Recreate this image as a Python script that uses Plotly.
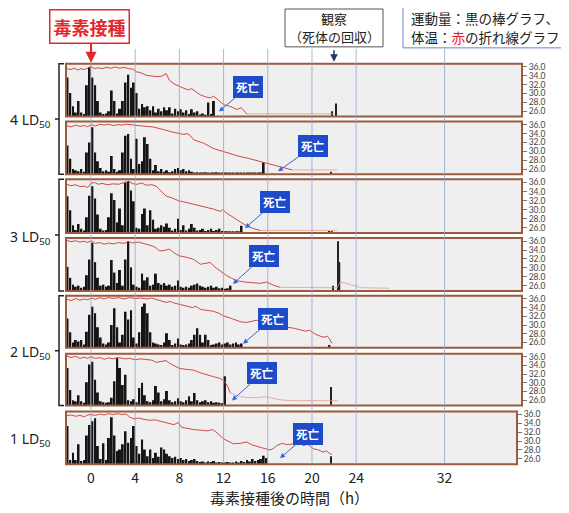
import plotly.graph_objects as go

# The page has an 8 px body margin, so the figure is drawn 8 px in and sized to fill the rest.
OFF = 8
W, H = 569 - OFF, 513 - OFF
def px(x): return (x - OFF) / W
def py(y): return 1 - (y - OFF) / H

# ---------------- data ----------------
T0 = -2.25      # start of activity record (h)
STEP = 0.25     # activity bin (h)
TIME_TICKS = [0, 4, 8, 12, 16, 20, 24, 32]
TEMP_TICKS = [26, 28, 30, 32, 34, 36]
TEMP_TICK_TEXT = ["26.0", "28.0", "30.0", "32.0", "34.0", "36.0"]
GROUP_LABELS = ["4 LD<sub>50</sub>", "3 LD<sub>50</sub>", "2 LD<sub>50</sub>", "1 LD<sub>50</sub>"]

act1 = [75,45,20,8,30,8,5,60,95,75, 60,30,8,5,6,10,50,30,6,15, 30,65,80,55,65,45,15,24,18,20,
        12,20,8,15,10,18,12,18,6,15, 10,14,8,12,5,14,8,10,4,6, 3,27,5,30]
act2 = [55,30,10,8,6,10,5,42,61,90, 42,25,12,6,8,5,35,10,5,8, 42,74,77,30,10,68,20,25,71,58,
        30,8,18,6,10,5,8,4,6,10, 12,8,10,6,8,5,3,4,3,2, 4,2,3,2,4,2,3,2,3,2,
        2,3,2,2,3,2,2,3,2,3, 2,23]
act3 = [69,43,15,6,17,8,5,30,70,88, 65,35,8,5,6,30,75,62,20,46, 15,95,98,80,60,10,8,36,46,15,
        43,25,8,10,15,12,18,10,5,8, 27,6,15,5,8,17,10,5,6,8, 4,6,8,4,6,8,4,3,2,3, 2,3,2,14]
act4 = [46,25,12,8,10,6,8,30,60,92, 55,25,10,12,8,10,59,35,15,40, 10,60,95,45,12,8,6,33,20,26,
        10,12,33,15,12,15,10,12,8,10, 20,8,6,8,6,10,12,14,10,8, 6,8,10,6,8,5,6,4,5,10]
act5 = [57,30,10,15,12,15,6,31,64,80, 67,40,20,8,6,10,44,77,40,10, 25,70,55,73,20,8,30,80,86,67,
        30,10,8,6,5,10,28,15,5,8, 18,6,5,6,8,15,25,38,25,10, 25,15,5,6,8,10,6,8,10,6, 8,10,6,8]
act6 = [73,30,10,8,20,8,5,45,80,85, 50,25,8,6,5,6,15,47,93,73, 40,60,10,8,12,6,34,44,20,8,
        6,10,38,25,8,12,28,10,6,8, 14,8,6,10,18,8,24,10,6,8, 10,6,8,5,6,5,4,57]
act7 = [73,8,22,8,38,6,8,55,75,82, 88,35,10,40,8,50,90,55,25,28, 38,63,41,50,73,35,20,47,28,15,
        28,12,22,14,32,28,20,15,12,14, 10,12,8,10,6,8,10,6,4,5, 3,5,4,6,3,4,3,2,4,3,
        2,5,3,6,4,8,5,10,6,8, 10,16,12]

late1_t, late1_v = [21.8, 22.15], [10, 25]
late2_t, late2_v = [21.7], [5]
late3_t, late3_v = [21.6, 21.8], [4, 3]
late4_t, late4_v = [21.9, 22.35, 22.5], [10, 95, 55]
late5_t, late5_v = [21.6], [5]
late6_t, late6_v = [21.7], [36]
late7_t, late7_v = [21.7], [15]

temp1_t = [-2.2,-1.8,-1.5,-1.2,-0.9,-0.6,-0.3,0,0.3,0.6,1.0,1.4,1.8,2.2,2.6,3.0,3.4,3.8,4.1,4.5,5.0,5.5,6.0,6.4,6.8,
           7.1,7.5,8.0,8.4,8.8,9.1,9.5,9.9,10.3,10.8,11.1,11.5,12.0,12.6,13.2,13.6,14.1]
temp1_v = [35.6,35.4,35.7,35.3,35.6,35.4,35.7,36.1,35.6,35.8,35.6,35.9,35.7,36.0,35.7,35.9,35.6,35.5,34.9,34.7,34.1,34.0,33.8,33.9,34.5,
           33.0,32.2,31.6,31.2,30.8,31.1,30.3,29.7,29.3,29.0,29.4,28.5,27.5,27.1,26.4,26.8,25.4]
temp2_t = [-2.2,-1.8,-1.4,-1.0,-0.6,-0.3,0,0.4,0.8,1.2,1.6,2.0,2.4,2.8,3.2,3.8,4.4,5.0,5.6,6.2,6.7,7.1,7.5,8.0,8.4,8.7,9.0,9.3,9.7,
           10.2,10.6,11.0,11.5,12.0,12.5,12.9,13.5,14.1,14.7,15.3,15.9,16.5,17.1,17.7,18.2]
temp2_v = [35.8,35.5,35.9,35.6,35.8,35.5,36.0,35.7,36.1,35.9,36.1,35.8,36.0,35.9,36.1,35.9,35.8,35.6,35.5,35.2,34.8,34.5,34.3,34.1,33.8,34.0,33.5,32.6,32.3,
           31.8,31.3,30.7,30.3,29.9,29.5,29.2,28.8,28.5,28.1,27.7,27.3,27.0,26.6,26.2,25.8]
temp3_t = [-2.2,-1.8,-1.4,-1.0,-0.6,-0.3,0,0.3,0.7,1.0,1.5,2.0,2.5,3.0,3.4,3.8,4.2,4.6,5.0,5.5,5.9,6.2,6.5,6.8,7.3,
           8.0,8.6,9.3,9.9,10.5,11.1,11.7,11.9,12.3,12.9,13.5,14.1,14.7,15.3]
temp3_v = [35.6,35.3,35.5,35.1,35.2,34.9,35.8,36.0,35.6,35.8,35.5,35.7,35.6,36.0,36.3,35.7,35.6,35.9,35.4,35.5,35.2,34.4,33.7,33.0,32.6,
           31.9,31.6,31.2,30.8,30.4,30.1,29.6,30.0,29.2,28.2,27.3,26.4,25.8,25.4]
temp4_t = [-2.2,-1.8,-1.4,-1.0,-0.6,-0.3,0,0.4,0.8,1.2,1.6,2.0,2.5,3.0,3.4,3.8,4.3,4.8,5.2,5.6,6.0,6.2,6.6,7.1,7.5,
           8.0,8.6,9.3,9.9,10.4,10.8,11.2,11.7,12.3,12.7,13.2,13.9,14.7,15.3,15.9,16.5,17.1]
temp4_v = [36.2,35.9,36.1,35.8,36.0,35.7,36.1,35.5,35.7,35.3,35.6,35.4,35.7,35.5,35.9,35.6,35.8,35.5,35.3,34.9,34.3,33.8,33.9,34.2,33.4,
           32.7,32.4,31.9,30.8,31.0,31.2,30.2,29.3,28.2,27.7,27.1,26.8,26.6,26.5,26.8,26.1,25.6]
temp5_t = [-2.2,-1.8,-1.4,-1.0,-0.6,-0.3,0,0.4,0.8,1.2,1.6,2.0,2.5,3.0,3.5,4.0,4.5,5.0,5.5,6.0,6.4,6.8,7.2,7.6,8.1,8.7,
           9.2,9.5,9.9,10.4,11.0,11.5,12.0,12.6,13.2,13.6,14.1,14.6,15.0,15.3,15.9,16.5,17.0,17.4,17.7,18.3,
           18.9,19.4,19.8,20.3,20.8,21.1,21.4,21.6,21.8]
temp5_v = [36.0,35.6,36.1,35.7,36.0,35.8,36.2,35.9,36.3,36.0,36.3,36.1,36.3,36.0,36.3,36.1,36.2,36.0,36.2,35.8,35.4,35.2,35.4,35.0,34.7,34.3,
           34.0,34.3,33.6,33.4,33.2,32.8,32.1,31.6,31.0,30.7,30.6,30.9,31.1,30.8,30.4,30.2,29.9,30.1,29.5,29.3,
           29.0,28.6,28.8,27.9,27.4,27.2,27.4,26.8,25.8]
temp6_t = [-2.2,-1.8,-1.4,-1.0,-0.6,-0.3,0,0.4,0.8,1.2,1.6,2.0,2.5,3.0,3.5,4.0,4.5,5.0,5.5,5.9,6.3,6.8,7.1,7.5,8.0,8.6,
           9.3,9.9,10.5,11.1,11.7,12.1,12.4,12.6]
temp6_v = [36.2,35.8,36.1,35.6,35.9,35.6,36.0,35.6,35.8,35.4,35.7,35.5,35.8,35.5,35.6,35.3,35.5,35.3,35.2,34.7,34.9,35.1,34.5,34.0,33.3,33.1,
           32.9,32.3,31.8,31.4,31.0,30.3,29.0,27.7]
temp7_t = [-2.2,-1.8,-1.4,-1.0,-0.6,-0.3,0,0.4,0.8,1.2,1.6,2.0,2.4,2.8,3.2,3.5,3.9,4.3,4.8,5.3,5.8,6.2,6.8,7.5,7.9,8.2,
           8.7,9.3,9.9,10.5,11.0,11.4,12.0,12.5,12.9,13.5,14.1,14.6,15.3,15.8,16.2,16.5,16.8,17.3,17.8,18.3,
           18.8,19.2,19.6,20.1,20.6,21.0,21.3,21.6,21.8]
temp7_v = [35.7,35.9,35.6,35.8,35.5,35.9,36.0,35.8,36.1,35.9,36.2,36.0,36.2,36.0,36.1,35.4,35.0,35.2,34.9,34.7,34.8,34.5,34.1,33.7,34.2,33.1,
           32.9,32.6,32.5,32.3,32.6,31.9,30.5,29.9,29.4,29.5,29.8,29.1,28.6,28.3,28.0,28.3,29.0,29.5,29.2,29.4,
           29.8,29.0,29.3,28.3,28.0,27.5,27.8,27.2,27.0]

# temperature after death (fainter trace)
tail1_t, tail1_v = [14.1, 22.0], [25.4, 25.4]
tail2_t, tail2_v = [18.2, 22.3], [25.8, 25.8]
tail3_t, tail3_v = [15.3, 22.3], [25.4, 25.4]
tail4_t = [17.1, 22.3, 22.5, 23.0, 23.5, 24.0, 24.5, 27.0]
tail4_v = [25.6, 25.5, 26.7, 26.6, 26.2, 25.8, 25.5, 25.4]
tail5_t, tail5_v = [], []
tail6_t = [12.6, 13.2, 14.1, 15.0, 15.9, 16.5, 17.1, 18.0, 22.3]
tail6_v = [27.7, 27.0, 26.6, 26.6, 26.8, 26.4, 26.1, 25.9, 25.9]
tail7_t, tail7_v = [], []

ACT = [act1, act2, act3, act4, act5, act6, act7]
LATE = [(late1_t, late1_v), (late2_t, late2_v), (late3_t, late3_v), (late4_t, late4_v),
        (late5_t, late5_v), (late6_t, late6_v), (late7_t, late7_v)]
TEMP = [(temp1_t, temp1_v), (temp2_t, temp2_v), (temp3_t, temp3_v), (temp4_t, temp4_v),
        (temp5_t, temp5_v), (temp6_t, temp6_v), (temp7_t, temp7_v)]
TAIL = [(tail1_t, tail1_v), (tail2_t, tail2_v), (tail3_t, tail3_v), (tail4_t, tail4_v),
        (tail5_t, tail5_v), (tail6_t, tail6_v), (tail7_t, tail7_v)]

# ---------------- layout geometry (window pixels) ----------------
PANEL_TOP = [62, 120, 178, 237, 295, 353, 411]
PANEL_BOT = [115, 173, 232, 290, 347, 405, 464]
PANEL_RIGHT = [522, 522, 522, 522, 522, 522, 517]
PANEL_LEFT = 66
PX_PER_H = 11.05
X_LEFT = -2.26
TEMP_RANGE = [24.8, 36.7]

FONT_JP = "Noto Sans CJK JP, Noto Sans, sans-serif"
RED = "#cf4a45"
TAIL_COL = "rgba(225,150,140,0.75)"
FRAME = "#9a5a3c"

fig = go.Figure()
layout = dict(
    width=W, height=H, autosize=False,
    margin=dict(l=0, r=0, t=0, b=0),
    paper_bgcolor="white", plot_bgcolor="#efefef",
    showlegend=False, barmode="overlay",
    font=dict(family=FONT_JP, color="#222"),
)
shapes = []
annotations = []

for k in range(7):
    n = k + 1
    xa = "x" if n == 1 else f"x{n}"
    ya_id, yt_id = 2 * n - 1, 2 * n
    ya = "y" if ya_id == 1 else f"y{ya_id}"
    top, bot, right = PANEL_TOP[k], PANEL_BOT[k], PANEL_RIGHT[k]
    x_right = X_LEFT + (right - PANEL_LEFT) / PX_PER_H

    layout["xaxis" if n == 1 else f"xaxis{n}"] = dict(
        domain=[px(PANEL_LEFT), px(right)], range=[X_LEFT, x_right],
        anchor=ya, showgrid=False, zeroline=False, showline=False,
        tickvals=TIME_TICKS, ticks="", showticklabels=(n == 7),
        tickfont=dict(size=14, color="#222", family=FONT_JP),
        ticklabelstandoff=4,
    )
    layout["yaxis" if ya_id == 1 else f"yaxis{ya_id}"] = dict(
        domain=[py(bot), py(top)], range=[0, 101], anchor=xa,
        visible=False, showgrid=False, zeroline=False,
    )
    layout[f"yaxis{yt_id}"] = dict(
        overlaying=ya, side="right", anchor=xa, range=TEMP_RANGE,
        tickvals=TEMP_TICKS, ticktext=TEMP_TICK_TEXT, ticks="outside",
        ticklen=4, tickwidth=1, tickcolor="#777", showgrid=False,
        zeroline=False, showline=False,
        tickfont=dict(size=8.5, color="#444", family="Lato, Liberation Sans, sans-serif"),
    )
    yt = f"y{yt_id}"

    a = ACT[k]
    fig.add_trace(go.Bar(
        x=[T0 + STEP * (i + 0.5) for i in range(len(a))], y=a,
        width=STEP * 0.72, xaxis=xa, yaxis=ya,
        marker=dict(color="#151515", line=dict(width=0)), hoverinfo="skip"))
    lt, lv = LATE[k]
    fig.add_trace(go.Bar(
        x=lt, y=lv, width=0.12, xaxis=xa, yaxis=ya,
        marker=dict(color="#222", line=dict(width=0)), hoverinfo="skip"))
    tt, tv = TAIL[k]
    if tt:
        fig.add_trace(go.Scatter(x=tt, y=tv, mode="lines", xaxis=xa, yaxis=yt,
                                 line=dict(color=TAIL_COL, width=1), hoverinfo="skip"))
    mt, mv = TEMP[k]
    fig.add_trace(go.Scatter(x=mt, y=mv, mode="lines", xaxis=xa, yaxis=yt,
                             line=dict(color=RED, width=1), hoverinfo="skip"))

    shapes.append(dict(type="rect", xref="paper", yref="paper",
                       x0=px(PANEL_LEFT), x1=px(right), y0=py(bot), y1=py(top),
                       line=dict(color=FRAME, width=2), layer="above"))

# vertical guide lines across all panels
for t in TIME_TICKS:
    shapes.append(dict(type="line", xref="x", yref="paper", x0=t, x1=t,
                       y0=py(PANEL_BOT[-1] - 1), y1=py(47),
                       line=dict(color="rgba(150,165,205,0.8)", width=1), layer="above"))

# group brackets
for top, bot in [(62, 173), (178, 290), (295, 405)]:
    mid = (top + bot) / 2
    path = (f"M {px(64)},{py(top)} L {px(59)},{py(top)} L {px(59)},{py(bot)} L {px(64)},{py(bot)} "
            f"M {px(59)},{py(mid)} L {px(55)},{py(mid)}")
    shapes.append(dict(type="path", xref="paper", yref="paper", path=path,
                       line=dict(color="#222", width=1.5)))

# boxes drawn as shapes; their text lines are separate annotations
shapes.append(dict(type="rect", xref="paper", yref="paper",
                   x0=px(403), x1=px(572), y0=py(46), y1=py(5),
                   line=dict(color="#7080d0", width=1), fillcolor="white", layer="above"))
shapes.append(dict(type="rect", xref="paper", yref="paper",
                   x0=px(285), x1=px(383), y0=py(45), y1=py(7),
                   line=dict(color="#555", width=1), fillcolor="white", layer="above"))

# group labels
for lab, yc in zip(GROUP_LABELS, [119, 236, 352, 439]):
    annotations.append(dict(text=lab, x=px(53), y=py(yc), xref="paper", yref="paper",
                            xanchor="right", yanchor="middle", showarrow=False,
                            font=dict(size=14, color="#222", family="Noto Sans, sans-serif")))

# death labels: (label centre px, arrow tip px)
DEATH = [((248, 85), (219, 110)), ((313, 145), (278, 170)), ((275, 201), (245, 227)),
         ((264, 255), (233, 283)), ((273, 318), (243, 343)), ((262, 373), (232, 400)),
         ((308, 434), (280, 458))]
for (lx, ly), (tx, ty) in DEATH:
    annotations.append(dict(text="<b>死亡</b>", x=px(tx), y=py(ty), xref="paper", yref="paper",
                            ax=lx - tx, ay=ly - ty, showarrow=True, arrowhead=2, arrowsize=1,
                            arrowwidth=1, arrowcolor="#3b63d8", standoff=0,
                            bgcolor="#1d4bc9", bordercolor="#1d4bc9", borderwidth=1, borderpad=2,
                            font=dict(size=11.5, color="white", family=FONT_JP)))

# top annotations
annotations += [
    dict(text="<b>毒素接種</b>", x=px(89), y=py(25), xref="paper", yref="paper",
         xanchor="center", yanchor="middle",
         showarrow=False, font=dict(size=18, color="#e5262a", family=FONT_JP),
         bordercolor="#e5262a", borderwidth=1.5, borderpad=3, bgcolor="white"),
    dict(text="", x=px(91), y=py(61), xref="paper", yref="paper", ax=0, ay=-21,
         showarrow=True, arrowhead=2, arrowsize=1.1, arrowwidth=2, arrowcolor="#e5262a", standoff=0),
    dict(text="観察", x=px(334), y=py(17), xref="paper", yref="paper",
         xanchor="center", yanchor="middle",
         showarrow=False, font=dict(size=13, color="#222", family=FONT_JP)),
    dict(text="（死体の回収）", x=px(334), y=py(35), xref="paper", yref="paper",
         xanchor="center", yanchor="middle",
         showarrow=False, font=dict(size=13, color="#222", family=FONT_JP)),
    dict(text="", x=px(334), y=py(60), xref="paper", yref="paper", ax=0, ay=-13,
         showarrow=True, arrowhead=2, arrowsize=1, arrowwidth=1.5, arrowcolor="#1f3564", standoff=0),
    dict(text="運動量：黒の棒グラフ、", x=px(409), y=py(16), xref="paper", yref="paper",
         xanchor="left", yanchor="middle", showarrow=False,
         font=dict(size=13.5, color="#222", family=FONT_JP)),
    dict(text="体温：<span style='color:#e02020'>赤</span>の折れ線グラフ",
         x=px(409), y=py(35), xref="paper", yref="paper", xanchor="left", yanchor="middle",
         showarrow=False, font=dict(size=13.5, color="#222", family=FONT_JP)),
    dict(text="毒素接種後の時間（h）", x=px(289), y=py(497), xref="paper", yref="paper",
         xanchor="center", yanchor="middle",
         showarrow=False, font=dict(size=15, color="#222", family=FONT_JP)),
]

layout["shapes"] = shapes
layout["annotations"] = annotations
fig.update_layout(**layout)
fig.write_html("out.html")
